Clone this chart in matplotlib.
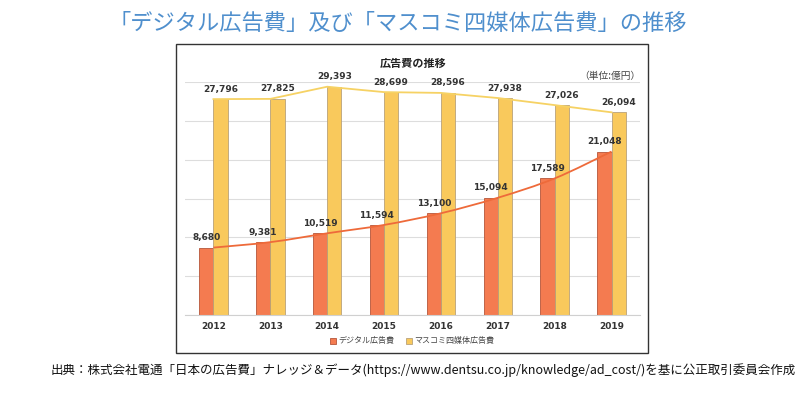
import matplotlib
matplotlib.use("Agg")
import matplotlib.pyplot as plt
from matplotlib.patches import Rectangle, PathPatch
from matplotlib.path import Path
import numpy as np

plt.rcParams['font.family'] = ['Noto Sans CJK JP', 'DejaVu Sans']

years = ["2012", "2013", "2014", "2015", "2016", "2017", "2018", "2019"]
digital = [8680, 9381, 10519, 11594, 13100, 15094, 17589, 21048]
mass4 = [27796, 27825, 29393, 28699, 28596, 27938, 27026, 26094]
series_names = ["デジタル広告費", "マスコミ四媒体広告費"]

title = "「デジタル広告費」及び「マスコミ四媒体広告費」の推移"
chart_title = "広告費の推移"
unit_label = "（単位:億円）"
source = "出典：株式会社電通「日本の広告費」ナレッジ＆データ(https://www.dentsu.co.jp/knowledge/ad_cost/)を基に公正取引委員会作成"

c_dig = "#F47B50"
c_dig_edge = "#B5563A"
c_mass = "#F9C95C"
c_mass_edge = "#B9A27A"
c_dig_line = "#EE6A3A"
c_mass_line = "#F6D264"

fig = plt.figure(figsize=(8, 3.96), dpi=100)

# chart box
fig.patches.append(Rectangle((176/800, 1-353/396), (648-176)/800, (353-44)/396,
                             transform=fig.transFigure, fill=False,
                             edgecolor="#333333", linewidth=1.0))

ax = fig.add_axes([185/800, 1-315/396, 455/800, 233/396])
x = np.arange(len(years))
w = 0.25
ax.bar(x - w/2, digital, w, color=c_dig, edgecolor=c_dig_edge, linewidth=0.6,
       label=series_names[0], zorder=2)
ax.bar(x + w/2, mass4, w, color=c_mass, edgecolor=c_mass_edge, linewidth=0.6,
       label=series_names[1], zorder=2)

# straight line for mass
ax.plot(x, mass4, color=c_mass_line, linewidth=1.3, zorder=3)

# smoothed line for digital (Catmull-Rom -> Bezier)
def smooth_path(xs, ys):
    pts = np.column_stack([xs, ys]).astype(float)
    verts = [pts[0]]
    codes = [Path.MOVETO]
    n = len(pts)
    for i in range(n - 1):
        p0 = pts[i-1] if i > 0 else pts[i]
        p1 = pts[i]
        p2 = pts[i+1]
        p3 = pts[i+2] if i + 2 < n else pts[i+1]
        c1 = p1 + (p2 - p0) / 6
        c2 = p2 - (p3 - p1) / 6
        verts += [c1, c2, p2]
        codes += [Path.CURVE4] * 3
    return Path(verts, codes)

ax.add_patch(PathPatch(smooth_path(x, digital), fill=False, edgecolor=c_dig_line,
                       linewidth=1.3, zorder=3))

for xi, v in zip(x, digital):
    ax.text(xi - w/2, v + 700, f"{v:,}", ha="center", va="bottom", fontsize=6.5,
            fontweight="bold", color="#333333", zorder=4, clip_on=False,
            family="DejaVu Sans")
for xi, v in zip(x, mass4):
    ax.text(xi + w/2, v + 700, f"{v:,}", ha="center", va="bottom", fontsize=6.5,
            fontweight="bold", color="#333333", zorder=4, clip_on=False,
            family="DejaVu Sans")

ax.set_xlim(-0.5, len(years) - 0.5)
ax.set_ylim(0, 30000)
ax.set_yticks(np.arange(0, 30001, 5000))
ax.yaxis.grid(True, color="#DDDDDD", linewidth=0.8, zorder=0)
ax.set_axisbelow(True)
ax.tick_params(axis="y", left=False, labelleft=False)
ax.set_xticks(x)
ax.set_xticklabels(years, fontsize=6.5, fontweight="bold", color="#333333",
                   family="DejaVu Sans")
ax.tick_params(axis="x", length=0, pad=5)
for s in ["top", "right", "left"]:
    ax.spines[s].set_visible(False)
ax.spines["bottom"].set_color("#D0D0D0")
ax.spines["bottom"].set_linewidth(0.8)

leg = fig.legend(loc="center", bbox_to_anchor=(412/800, 1-341/396), ncol=2,
                 frameon=False, fontsize=5.8, handlelength=0.7, handleheight=0.7,
                 columnspacing=1.5, handletextpad=0.3)
for t in leg.get_texts():
    t.set_color("#444444")

fig.text(413/800, 1-63/396, chart_title, ha="center", va="center", fontsize=8,
         fontweight="bold", color="#222222")
fig.text(640/800, 1-76/396, unit_label, ha="right", va="center", fontsize=7,
         color="#444444")

fig.text(398/800, 1-23/396, title, ha="center", va="center", fontsize=16,
         color="#4F8FCD")
fig.text(423/800, 1-370/396, source, ha="center", va="center", fontsize=9,
         color="#111111")

fig.savefig("out.png", dpi=100, facecolor="white")
